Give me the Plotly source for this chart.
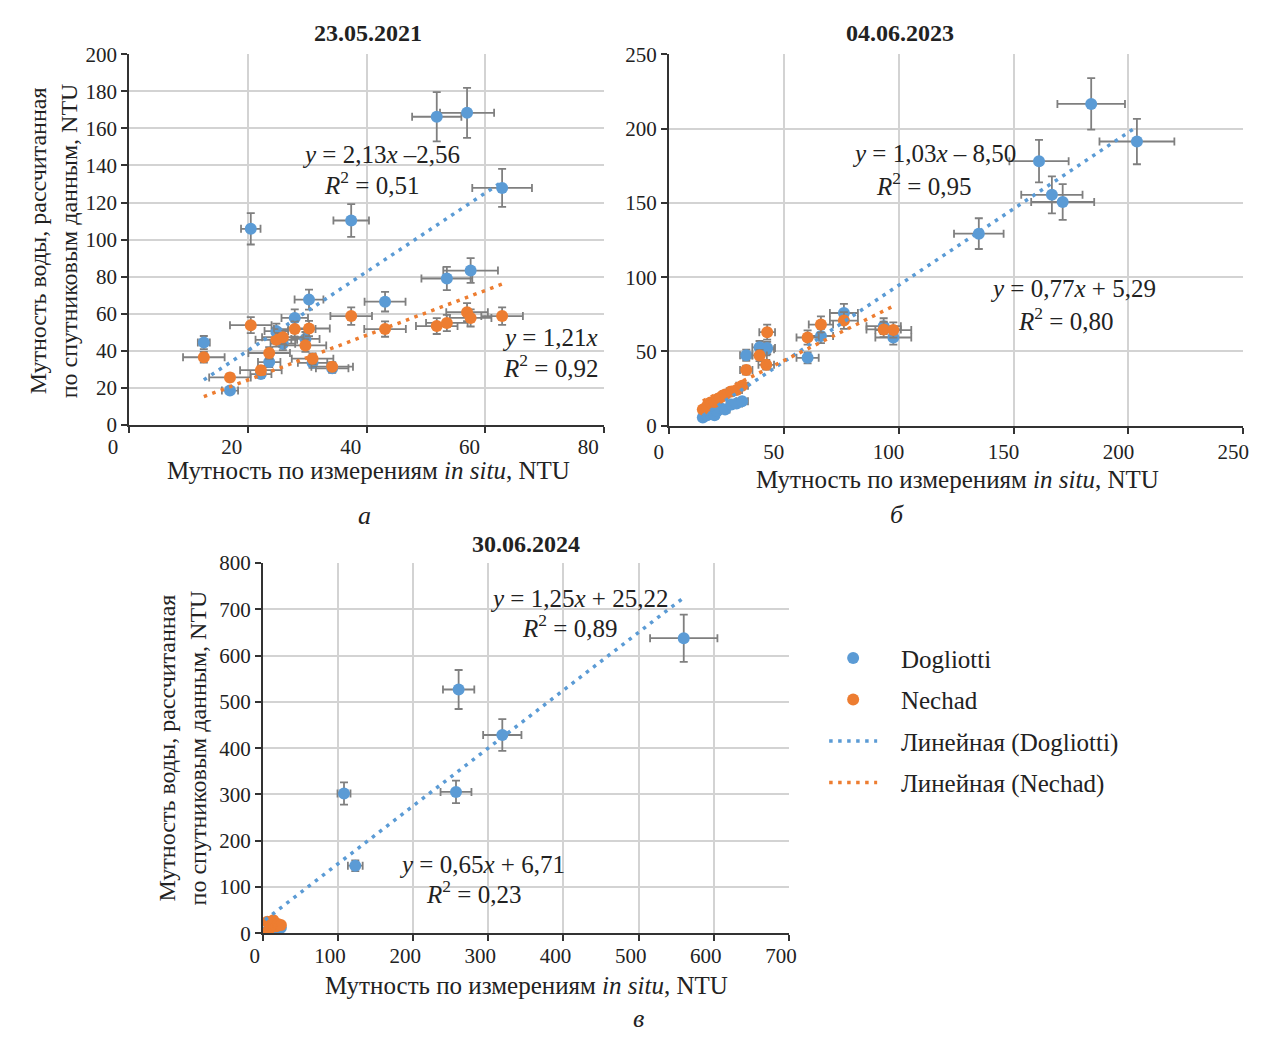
import plotly.graph_objects as go

W, H = 1265, 1043
FONT = "Liberation Serif"
BLUE = "#5B9BD5"
ORANGE = "#ED7D31"
ERR = "#7F7F7F"

# ---------------- data ----------------
# panel a: 23.05.2021
a_x = [12.6, 17.0, 20.5, 22.2, 23.6, 24.8, 25.9, 27.9, 29.7, 30.3, 30.9, 34.2,
       37.4, 43.1, 51.8, 53.5, 56.9, 57.5, 62.8]
a_dog = [44.4, 18.5, 105.8, 27.4, 33.9, 50.6, 43.8, 57.7, 46.4, 67.6, 33.5, 30.5,
         110.3, 66.5, 166.3, 79.0, 168.4, 83.3, 127.9]
a_nech = [36.5, 25.6, 53.8, 29.5, 38.8, 45.9, 47.3, 51.7, 42.9, 52.0, 35.7, 31.4,
          58.7, 51.7, 53.3, 55.0, 60.8, 57.7, 58.7]
a_fit_dog = (2.13, -2.56)
a_fit_nech = (1.21, 0.0)

# panel b: 04.06.2023
b_x = [14.8, 16.7, 18.1, 19.9, 21.0, 22.4, 24.5, 27.3, 29.5, 31.9, 33.7, 39.5,
       42.8, 42.4, 60.4, 66.2, 76.2, 93.5, 97.7, 134.9, 161.1, 166.7, 171.4,
       183.8, 203.7]
b_dog = [5.5, 7.0, 8.0, 7.0, 10.0, 12.0, 11.0, 14.3, 15.0, 16.5, 47.5, 52.8,
         52.3, 51.5, 45.7, 60.4, 75.9, 67.0, 59.4, 129.3, 178.1, 155.4, 150.6,
         216.6, 191.3]
b_nech = [11.0, 13.4, 15.6, 16.0, 17.8, 19.0, 21.0, 23.0, 24.0, 27.0, 37.5, 47.3,
          63.0, 41.0, 59.4, 68.1, 70.8, 64.8, 64.4, None, None, None, None,
          None, None]
b_fit_dog = (1.03, -8.50)
b_fit_nech = (0.77, 5.29)

# panel c: 30.06.2024
c_x = [3, 6, 9, 14, 18, 20, 24, 108, 123, 257, 260.5, 318.6, 560]
c_dog = [2, 3, 5, 6, 8, 10, 12, 302, 146, 305.5, 526.7, 428.4, 637.6]
c_nech = [0, 25, 10, 28, 15, 20, 18, None, None, None, None, None, None]
c_fit_dog = (1.25, 25.22)
c_fit_nech = (0.65, 6.71)

a_x_ticks = [0, 20, 40, 60, 80]
a_y_ticks = [0, 20, 40, 60, 80, 100, 120, 140, 160, 180, 200]
b_ticks = [0, 50, 100, 150, 200, 250]
c_x_ticks = [0, 100, 200, 300, 400, 500, 600, 700]
c_y_ticks = [0, 100, 200, 300, 400, 500, 600, 700, 800]

titles = ["23.05.2021", "04.06.2023", "30.06.2024"]
x_title = "Мутность по измерениям <i>in situ</i>, NTU"
y_title = "Мутность воды, рассчитанная<br>по спутниковым данным, NTU"
names = ["Dogliotti", "Nechad", "Линейная (Dogliotti)", "Линейная (Nechad)"]
panel_letters = ["а", "б", "в"]

eqs = {
    "a": [("<i>y</i> = 2,13<i>x</i> –2,56", "<i>R</i><sup>2</sup> = 0,51"),
          ("<i>y</i> = 1,21<i>x</i>", "<i>R</i><sup>2</sup> = 0,92")],
    "b": [("<i>y</i> = 1,03<i>x</i> – 8,50", "<i>R</i><sup>2</sup> = 0,95"),
          ("<i>y</i> = 0,77<i>x</i> + 5,29", "<i>R</i><sup>2</sup> = 0,80")],
    "c": [("<i>y</i> = 1,25<i>x</i> + 25,22", "<i>R</i><sup>2</sup> = 0,89"),
          ("<i>y</i> = 0,65<i>x</i> + 6,71", "<i>R</i><sup>2</sup> = 0,23")],
}

# ---------------- figure ----------------
fig = go.Figure()
NB = "\u00a0\u00a0\u00a0"


def px2x(p):
    return p / W


def px2y(p):
    return 1 - p / H


def add_panel(xs, dog, nech, fit_d, fit_n, xa, ya, first, nech_xerr):
    bx = [x for x, v in zip(xs, dog) if v is not None]
    by = [v for v in dog if v is not None]
    ox = [x for x, v in zip(xs, nech) if v is not None]
    oy = [v for v in nech if v is not None]
    fig.add_trace(go.Scatter(
        x=bx, y=by, mode="markers", name=NB + names[0], legendgroup="g1",
        showlegend=first, xaxis=xa, yaxis=ya,
        marker=dict(color=BLUE, size=12),
        error_x=dict(type="percent", value=8, color=ERR, thickness=1.8, width=4),
        error_y=dict(type="percent", value=8, color=ERR, thickness=1.8, width=4)))
    fig.add_trace(go.Scatter(
        x=ox, y=oy, mode="markers", name=NB + names[1], legendgroup="g2",
        showlegend=first, xaxis=xa, yaxis=ya,
        marker=dict(color=ORANGE, size=12),
        error_x=nech_xerr,
        error_y=dict(type="percent", value=8, color=ERR, thickness=1.8, width=4)))
    for (k, b), pts, col, nm, g in [
            (fit_d, bx, BLUE, names[2], "g3"),
            (fit_n, ox, ORANGE, names[3], "g4")]:
        x0, x1 = min(pts), max(pts)
        fig.add_trace(go.Scatter(
            x=[x0, x1], y=[k * x0 + b, k * x1 + b], mode="lines", name=NB + nm,
            legendgroup=g, showlegend=first, xaxis=xa, yaxis=ya,
            line=dict(color=col, width=3.5, dash="3.5px,5.5px")))


add_panel(a_x, a_dog, a_nech, a_fit_dog, a_fit_nech, "x", "y", True,
          dict(type="constant", value=3.5, color=ERR, thickness=1.8, width=4))
add_panel(b_x, b_dog, b_nech, b_fit_dog, b_fit_nech, "x2", "y2", False,
          dict(type="percent", value=8, color=ERR, thickness=1.8, width=4))
add_panel(c_x, c_dog, c_nech, c_fit_dog, c_fit_nech, "x3", "y3", False,
          dict(type="percent", value=8, color=ERR, thickness=1.8, width=4))


def axis(dom, rng, ticks, anchor, shift=0, standoff=0):
    d = dict(domain=dom, range=rng, tickvals=ticks, anchor=anchor,
             showgrid=True, gridcolor="#D3D3D3", gridwidth=1.5,
             showline=True, linecolor="#333333", linewidth=1.6,
             ticks="outside", ticklen=6, tickcolor="#333333", tickwidth=1.5,
             zeroline=False, fixedrange=True,
             tickfont=dict(family=FONT, size=21, color="#222222"))
    if shift:
        d["ticklabelshift"] = shift
    if standoff:
        d["ticklabelstandoff"] = standoff
    return d


layout = dict(
    width=W, height=H, margin=dict(l=0, r=0, t=0, b=0),
    paper_bgcolor="white", plot_bgcolor="white",
    font=dict(family=FONT, color="#222222"),
    xaxis=axis([px2x(110.5), px2x(597)], [0, 80], a_x_ticks, "y", -16, -4),
    yaxis=axis([px2y(422.6), px2y(43.3)], [0, 200], a_y_ticks, "x"),
    xaxis2=axis([px2x(663), px2x(1251)], [0, 250], b_ticks, "y2", -10),
    yaxis2=axis([px2y(423.5), px2y(43.3)], [0, 250], b_ticks, "x2"),
    xaxis3=axis([px2x(247.5), px2x(786)], [0, 700], c_x_ticks, "y3", -8, -3),
    yaxis3=axis([px2y(943), px2y(564)], [0, 800], c_y_ticks, "x3"),
    legend=dict(x=px2x(822), y=px2y(638), xanchor="left", yanchor="top",
                font=dict(family=FONT, size=25, color="#222222"),
                traceorder="grouped", tracegroupgap=6, itemwidth=48,
                bgcolor="rgba(0,0,0,0)"),
    showlegend=True,
)

anns = []


def ann(text, px, py, size, xanchor="center", angle=0, bold=False):
    anns.append(dict(text=("<b>%s</b>" % text) if bold else text,
                     x=px2x(px), y=px2y(py), xref="paper", yref="paper",
                     xanchor=xanchor, yanchor="middle", showarrow=False,
                     textangle=angle,
                     font=dict(family=FONT, size=size, color="#222222")))


# titles
ann(titles[0], 355, 22, 24, bold=True)
ann(titles[1], 900, 22, 24, bold=True)
ann(titles[2], 517, 545, 24, bold=True)
# x titles
ann(x_title, 356, 469, 25)
ann(x_title, 958, 479, 25)
ann(x_title, 517, 996, 25)
# y titles
ann(y_title, 33.5, 234, 24, angle=-90)
ann(y_title, 165.5, 753, 24, angle=-90)
# panel letters
ann("<i>%s</i>" % panel_letters[0], 352, 515, 26)
ann("<i>%s</i>" % panel_letters[1], 897, 514, 26)
ann("<i>%s</i>" % panel_letters[2], 632, 1030, 26)
# equations
ann(eqs["a"][0][0], 368, 146, 25)
ann(eqs["a"][0][1], 359, 175, 25)
ann(eqs["a"][1][0], 593, 333, 25, xanchor="right")
ann(eqs["a"][1][1], 593, 362, 25, xanchor="right")
ann(eqs["b"][0][0], 934, 145, 25)
ann(eqs["b"][0][1], 924, 176, 25)
ann(eqs["b"][1][0], 1077, 283, 25)
ann(eqs["b"][1][1], 1069, 314, 25)
ann(eqs["c"][0][0], 571, 600, 25)
ann(eqs["c"][0][1], 561, 628, 25)
ann(eqs["c"][1][0], 472, 873, 25)
ann(eqs["c"][1][1], 463, 901, 25)

layout["annotations"] = anns
fig.update_layout(**layout)
fig.write_html(
    "out.html",
    post_script="document.body.style.margin='0';"
                "document.documentElement.style.overflow='hidden';")
